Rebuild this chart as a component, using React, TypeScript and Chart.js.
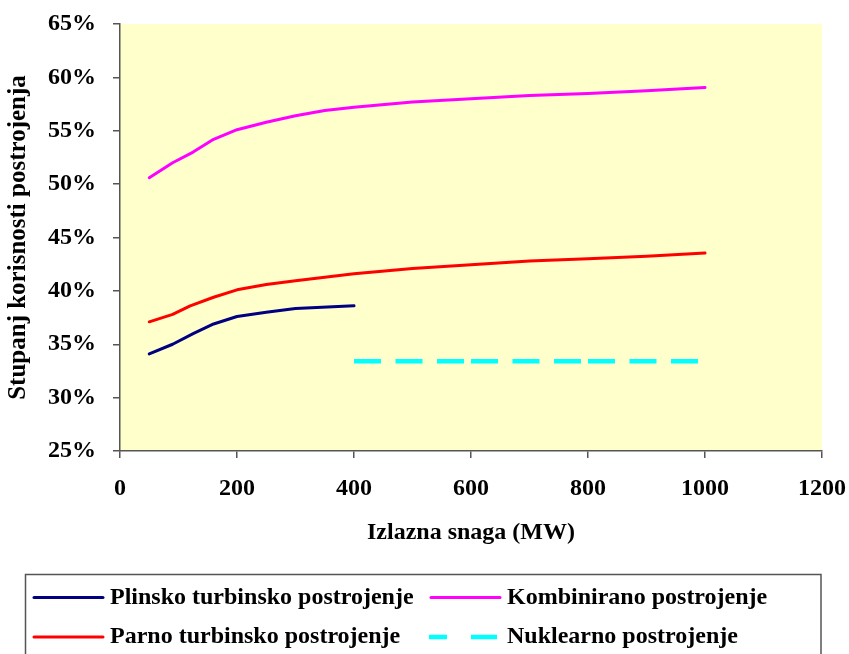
import React, { useEffect, useRef } from "react";
import { Chart, registerables } from "chart.js";

Chart.register(...registerables);

const gasX = [50, 90, 125, 160, 200, 250, 300, 400];
const gasY = [34.1, 35.0, 36.0, 36.9, 37.6, 38.0, 38.35, 38.6];

const steamX = [50, 90, 120, 160, 200, 250, 300, 400, 500, 600, 700, 800, 900, 1000];
const steamY = [37.1, 37.8, 38.6, 39.4, 40.1, 40.6, 40.95, 41.6, 42.1, 42.45, 42.8, 43.0, 43.25, 43.55];

const combinedX = [50, 90, 125, 160, 200, 250, 300, 350, 400, 500, 600, 700, 800, 900, 1000];
const combinedY = [50.6, 52.0, 53.0, 54.2, 55.1, 55.8, 56.4, 56.9, 57.2, 57.7, 58.0, 58.3, 58.5, 58.75, 59.05];

const nuclearX = [400, 600, 800, 1000];
const nuclearY = [33.4, 33.4, 33.4, 33.4];

const seriesNames = [
  "Plinsko turbinsko postrojenje",
  "Parno turbinsko postrojenje",
  "Kombinirano postrojenje",
  "Nuklearno postrojenje",
];

const xTicks = [0, 200, 400, 600, 800, 1000, 1200];
const yTicks = [25, 30, 35, 40, 45, 50, 55, 60, 65];

const xTitle = "Izlazna snaga (MW)";
const yTitle = "Stupanj korisnosti postrojenja";

const FONT = "'Liberation Serif', 'Times New Roman', serif";

const toPoints = (xs: number[], ys: number[]) => xs.map((x, i) => ({ x, y: ys[i] }));

const bgPlugin = {
  id: "plotBg",
  beforeDraw(chart: any) {
    const { ctx, chartArea } = chart;
    ctx.save();
    ctx.fillStyle = "#FFFFCC";
    ctx.fillRect(chartArea.left, chartArea.top, chartArea.right - chartArea.left, chartArea.bottom - chartArea.top);
    ctx.restore();
  },
};

const legendPlugin = {
  id: "boxLegend",
  afterDraw(chart: any) {
    const { ctx } = chart;
    const ds = chart.data.datasets;
    ctx.save();
    ctx.strokeStyle = "#555555";
    ctx.lineWidth = 1.5;
    ctx.strokeRect(25.5, 574.5, 795.5, 120);
    const cols = [33, 430];
    const rows = [597.5, 637];
    const order = [0, 2, 1, 3];
    ctx.font = `bold 24px ${FONT}`;
    ctx.textBaseline = "middle";
    ctx.textAlign = "left";
    order.forEach((di, k) => {
      const d = ds[di];
      const cx = cols[k % 2];
      const cy = rows[Math.floor(k / 2)];
      ctx.beginPath();
      ctx.strokeStyle = d.borderColor;
      ctx.lineWidth = d.borderWidth;
      if (d.borderDash && d.borderDash.length) {
        ctx.setLineDash([18, 24, 26, 200]);
        ctx.lineCap = "butt";
        ctx.moveTo(cx - 1, cy);
        ctx.lineTo(cx + 68, cy);
      } else {
        ctx.setLineDash([]);
        ctx.lineCap = "round";
        ctx.moveTo(cx + 1, cy);
        ctx.lineTo(cx + 70, cy);
      }
      ctx.stroke();
      ctx.setLineDash([]);
      ctx.fillStyle = "#000000";
      ctx.fillText(d.label, cx + 77, cy);
    });
    ctx.restore();
  },
};

export default function App() {
  const ref = useRef<HTMLCanvasElement | null>(null);

  useEffect(() => {
    if (!ref.current) return;
    const chart = new Chart(ref.current, {
      type: "line",
      data: {
        datasets: [
          {
            label: seriesNames[0],
            data: toPoints(gasX, gasY),
            borderColor: "#000080",
            borderWidth: 3,
            pointRadius: 0,
            borderCapStyle: "round",
            borderJoinStyle: "round",
            tension: 0,
          },
          {
            label: seriesNames[1],
            data: toPoints(steamX, steamY),
            borderColor: "#FF0000",
            borderWidth: 3,
            pointRadius: 0,
            borderCapStyle: "round",
            borderJoinStyle: "round",
            tension: 0,
          },
          {
            label: seriesNames[2],
            data: toPoints(combinedX, combinedY),
            borderColor: "#FF00FF",
            borderWidth: 3,
            pointRadius: 0,
            borderCapStyle: "round",
            borderJoinStyle: "round",
            tension: 0,
          },
          {
            label: seriesNames[3],
            data: toPoints(nuclearX, nuclearY),
            borderColor: "#00FFFF",
            borderWidth: 4.5,
            pointRadius: 0,
            borderDash: [27, 14.5],
            borderCapStyle: "butt",
            tension: 0,
            segment: {
              borderDashOffset: (c: any) => c.p0DataIndex * 0.01,
            },
          } as any,
        ],
      },
      options: {
        responsive: false,
        animation: false,
        events: [],
        layout: { padding: { left: 0, top: 24, right: 27, bottom: 103 } },
        plugins: {
          legend: { display: false },
          tooltip: { enabled: false },
        },
        scales: {
          x: {
            type: "linear",
            min: 0,
            max: 1200,
            afterBuildTicks: (s: any) => {
              s.ticks = xTicks.map((v) => ({ value: v }));
            },
            afterFit: (s: any) => {
              s.height = 100;
              s.paddingLeft = 0;
              s.paddingRight = 0;
            },
            grid: { drawOnChartArea: false, drawTicks: true, tickLength: 7, color: "#555555", lineWidth: 1.5 },
            border: { color: "#555555", width: 1.5 },
            ticks: {
              padding: 16,
              maxRotation: 0,
              color: "#000000",
              font: { family: FONT, size: 24, weight: "bold" },
              callback: (v: any) => String(v),
            },
            title: {
              display: true,
              text: xTitle,
              color: "#000000",
              font: { family: FONT, size: 24, weight: "bold" },
              padding: { top: 0, bottom: 4 },
            },
          },
          y: {
            type: "linear",
            min: 25,
            max: 65,
            afterBuildTicks: (s: any) => {
              s.ticks = yTicks.map((v) => ({ value: v }));
            },
            afterFit: (s: any) => {
              s.width = 120;
              s.paddingTop = 0;
              s.paddingBottom = 0;
            },
            grid: { drawOnChartArea: false, drawTicks: true, tickLength: 7, color: "#555555", lineWidth: 1.5 },
            border: { color: "#555555", width: 1.5 },
            ticks: {
              padding: 17,
              color: "#000000",
              font: { family: FONT, size: 24, weight: "bold" },
              callback: (v: any) => `${v}%`,
            },
            title: {
              display: true,
              text: yTitle,
              color: "#000000",
              font: { family: FONT, size: 25, weight: "bold" },
              padding: { top: 4, bottom: 0 },
            },
          },
        },
      },
      plugins: [bgPlugin, legendPlugin],
    });
    return () => chart.destroy();
  }, []);

  return (
    <div style={{ position: "absolute", left: 0, top: 0, width: 849, height: 654, background: "#ffffff" }}>
      <canvas ref={ref} width={849} height={654} />
    </div>
  );
}
